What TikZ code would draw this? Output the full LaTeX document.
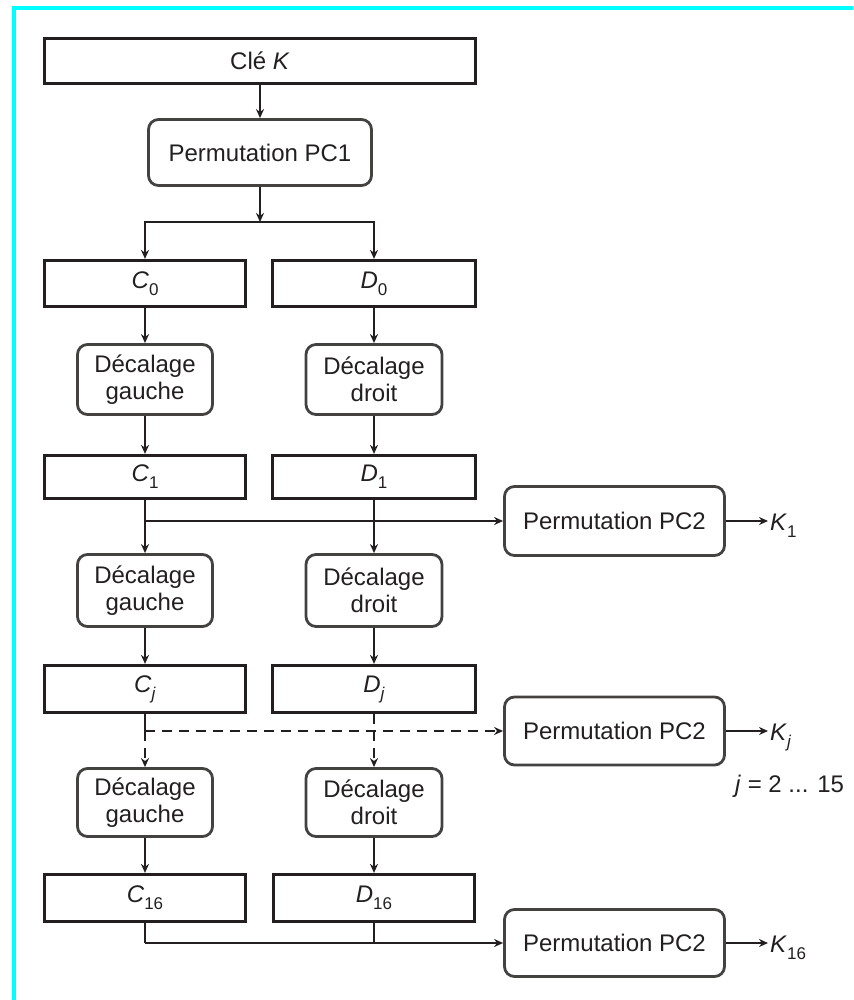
\documentclass[tikz,border=0pt]{standalone}
\usepackage{fontspec}
\setmainfont{Liberation Sans}
\usetikzlibrary{arrows.meta}
\definecolor{ink}{RGB}{35,31,32}
\definecolor{framecyan}{RGB}{0,255,255}
\newcommand\sbx[2]{\textit{#1}\raisebox{-7pt}{\fontsize{17}{17}\selectfont #2}}
\begin{document}
\begin{tikzpicture}[x=1pt,y=-1pt,
  every node/.style={text=ink},
  font=\fontsize{24}{27}\selectfont,
  regbox/.style={draw=ink, line width=3.2pt, inner sep=0pt},
  opbox/.style={draw=ink!85, line width=2.8pt, rounded corners=10pt, inner sep=0pt, align=center},
  arr/.style={draw=ink, line width=2.8pt, -{Stealth[length=9pt,width=8pt]}},
  ln/.style={draw=ink, line width=2.8pt},
  dsh/.style={dash pattern=on 10pt off 7pt}]
\useasboundingbox (0,0) rectangle (853,1000);
% frame
\draw[framecyan, line width=4pt] (14,1000) -- (14,8.5) -- (853,8.5);
% nodes
\node[regbox, minimum width=431pt, minimum height=45pt] (cle) at (260,61) {Clé \textit{K}};
\node[opbox, minimum width=223pt, minimum height=66pt] (pc1) at (260,152.5) {Permutation PC1};
\node[regbox, minimum width=201pt, minimum height=46pt] (C0) at (145,283.5) {\sbx{C}{0}};
\node[regbox, minimum width=203pt, minimum height=46pt] (D0) at (374,283.5) {\sbx{D}{0}};
\node[opbox, minimum width=135pt, minimum height=70pt] (dg1) at (145,379.5) {Décalage\\gauche};
\node[opbox, minimum width=136pt, minimum height=70pt] (dd1) at (374,379.5) {Décalage\\droit};
\node[regbox, minimum width=201pt, minimum height=43pt] (C1) at (145,477) {\sbx{C}{1}};
\node[regbox, minimum width=203pt, minimum height=43pt] (D1) at (374,477) {\sbx{D}{1}};
\node[opbox, minimum width=135pt, minimum height=72pt] (dg2) at (145,590.5) {Décalage\\gauche};
\node[opbox, minimum width=136pt, minimum height=72pt] (dd2) at (374,590.5) {Décalage\\droit};
\node[regbox, minimum width=201pt, minimum height=47pt] (Cj) at (145,689) {\sbx{C}{\textit{j}}};
\node[regbox, minimum width=203pt, minimum height=47pt] (Dj) at (374,689) {\sbx{D}{\textit{j}}};
\node[opbox, minimum width=135pt, minimum height=68pt] (dg3) at (145,802.5) {Décalage\\gauche};
\node[opbox, minimum width=136pt, minimum height=68pt] (dd3) at (374,802.5) {Décalage\\droit};
\node[regbox, minimum width=201pt, minimum height=47pt] (C16) at (145,898) {\sbx{C}{16}};
\node[regbox, minimum width=201pt, minimum height=47pt] (D16) at (374,898) {\sbx{D}{16}};
\node[opbox, minimum width=220pt, minimum height=69pt] (pa) at (614.5,521) {Permutation PC2};
\node[opbox, minimum width=220pt, minimum height=68pt] (pb) at (614.5,731) {Permutation PC2};
\node[opbox, minimum width=220pt, minimum height=67pt] (pc) at (614.5,943) {Permutation PC2};
\node[anchor=base west, inner sep=2pt] (K1) at (768,530) {\sbx{K}{1}};
\node[anchor=base west, inner sep=2pt] (Kj) at (768,740) {\sbx{K}{\textit{j}}};
\node[anchor=base west, inner sep=0pt] (jr) at (735,792) {\textit{j} = 2 ... 15};
\node[anchor=base west, inner sep=2pt] (K16) at (768,952) {\sbx{K}{16}};
% junctions
\coordinate (s0) at (260,222);
\coordinate (s1) at (145,521);
\coordinate (s2) at (145,731);
\coordinate (s3) at (145,943);
\coordinate (s3r) at (374,943);
% connectors
\draw[arr] (cle) -- (pc1);
\draw[arr] (pc1) -- (s0);
\draw[arr] (s0) -| (C0.north);
\draw[arr] (s0) -| (D0.north);
\draw[arr] (C0) -- (dg1);
\draw[arr] (D0) -- (dd1);
\draw[arr] (dg1) -- (C1);
\draw[arr] (dd1) -- (D1);
\draw[ln] (C1.south) -- (s1);
\draw[arr] (s1) -- (dg2);
\draw[arr] (D1) -- (dd2);
\draw[arr] (s1) -- (pa);
\draw[arr] (dg2) -- (Cj);
\draw[arr] (dd2) -- (Dj);
\draw[ln] (Cj.south) -- (s2);
\draw[arr, dsh] (s2) -- (dg3);
\draw[arr, dsh] (Dj) -- (dd3);
\draw[arr, dsh] (s2) -- (pb);
\draw[arr] (dg3) -- (C16);
\draw[arr] (dd3) -- (D16);
\draw[ln] (C16.south) -- (s3);
\draw[ln] (D16.south) -- (s3r);
\draw[arr] (s3) -- (pc);
\draw[arr] (pa.east) -- (pa.east -| K1.west);
\draw[arr] (pb.east) -- (pb.east -| Kj.west);
\draw[arr] (pc.east) -- (pc.east -| K16.west);
\end{tikzpicture}
\end{document}
